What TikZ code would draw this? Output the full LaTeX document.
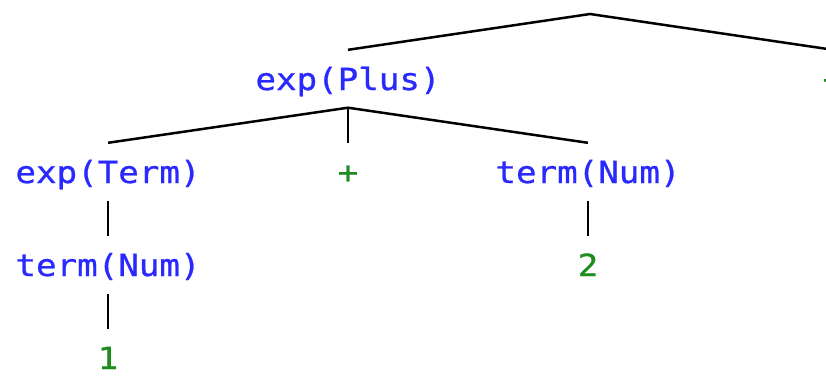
\documentclass[tikz,border=0pt]{standalone}
\usepackage{fontspec}
\setmonofont[FakeStretch=1.12,FakeBold=0.8]{DejaVu Sans Mono}
\usepackage{xcolor}
\usepackage{tikz}
\usetikzlibrary{positioning}
\definecolor{ntblue}{RGB}{40,40,255}
\definecolor{lfgreen}{RGB}{30,140,30}
\tikzset{
  tnode/.style={anchor=base,inner sep=0pt,text height=40pt,text depth=17.5pt,font=\ttfamily\fontsize{30.5}{36}\selectfont,text=ntblue},
  tleaf/.style={tnode,text=lfgreen},
  branch/.style={line width=2.5pt,black},
}
\begin{document}
\begin{tikzpicture}[x=1pt,y=-1pt]
\clip (0,0) rectangle (826,376);
\coordinate (root) at (590,14);
\node[tnode] (plus) at (348,90) {exp(Plus)};
\node[tleaf] (rop) at (833,90) {+};
\node[tnode] (expt) at (108,183) {exp(Term)};
\node[tleaf] (op) at (348,183) {+};
\node[tnode] (numr) at (588,183) {term(Num)};
\node[tnode] (numl) at (108,276) {term(Num)};
\node[tleaf] (two) at (588,276) {2};
\node[tleaf] (one) at (108,369) {1};
\draw[branch] (plus.north) -- (root) -- (rop.north);
\draw[branch] (expt.north) -- (plus.south) -- (numr.north);
\draw[branch] (plus.south) -- (op.north);
\draw[branch] (expt.south) -- (numl.north);
\draw[branch] (numl.south) -- (one.north);
\draw[branch] (numr.south) -- (two.north);
\end{tikzpicture}
\end{document}
